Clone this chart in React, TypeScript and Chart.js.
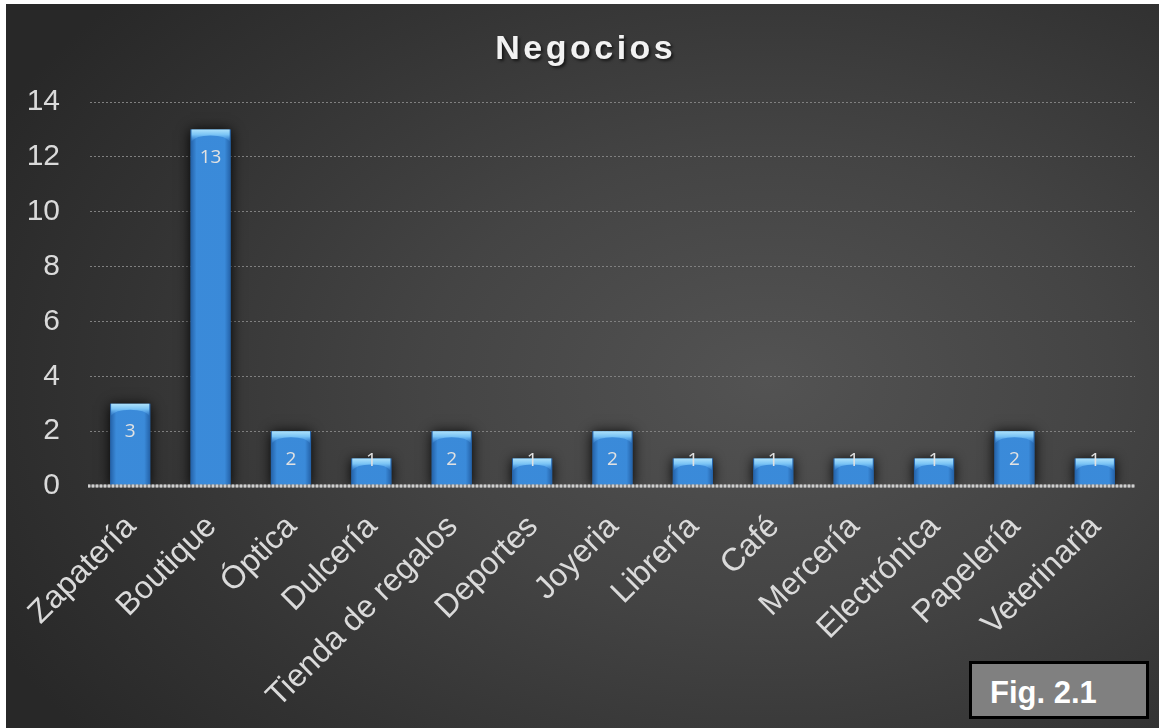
import React, { useEffect, useRef } from "react";
import { Chart, registerables } from "chart.js";

Chart.register(...registerables);

const TITLE = "Negocios";
const CATEGORIES = [
  "Zapatería",
  "Boutique",
  "Óptica",
  "Dulcería",
  "Tienda de regalos",
  "Deportes",
  "Joyeria",
  "Librería",
  "Café",
  "Mercería",
  "Electrónica",
  "Papelería",
  "Veterinaria",
];
const VALUES = [3, 13, 2, 1, 2, 1, 2, 1, 1, 1, 1, 2, 1];
const Y_MIN = 0;
const Y_MAX = 14;
const Y_STEP = 2;
const FIG_LABEL = "Fig. 2.1";

const CANVAS_W = 1153;
const CANVAS_H = 724;

const barEffects = {
  id: "barEffects",
  beforeDatasetsDraw(chart: any) {
    const ctx = chart.ctx;
    ctx.save();
    ctx.shadowColor = "rgba(0,0,0,0.95)";
    ctx.shadowBlur = 12;
    ctx.shadowOffsetX = 0;
    ctx.shadowOffsetY = 1;
  },
  afterDatasetsDraw(chart: any) {
    const ctx = chart.ctx;
    ctx.restore();
    const meta = chart.getDatasetMeta(0);
    const area = chart.chartArea;
    meta.data.forEach((el: any, i: number) => {
      const w = el.width;
      const left = el.x - w / 2;
      const right = el.x + w / 2;
      const top = el.y;
      const base = el.base;
      ctx.save();
      const hg = ctx.createLinearGradient(left, 0, right, 0);
      hg.addColorStop(0, "rgba(10,50,110,0.5)");
      hg.addColorStop(0.15, "rgba(10,50,110,0.05)");
      hg.addColorStop(0.85, "rgba(10,50,110,0.05)");
      hg.addColorStop(1, "rgba(10,50,110,0.5)");
      ctx.fillStyle = hg;
      ctx.fillRect(left, top, w, base - top);
      const capH = Math.min(12, (base - top) * 0.45);
      const vg = ctx.createLinearGradient(0, top, 0, top + capH);
      vg.addColorStop(0, "#aee2fb");
      vg.addColorStop(0.45, "#79c3f5");
      vg.addColorStop(1, "rgba(70,150,230,0.2)");
      ctx.beginPath();
      ctx.moveTo(left + 1, top);
      ctx.lineTo(right - 1, top);
      ctx.lineTo(right - 1, top + capH);
      ctx.quadraticCurveTo(right - 5, top + capH * 0.5, el.x, top + capH * 0.5);
      ctx.quadraticCurveTo(left + 5, top + capH * 0.5, left + 1, top + capH);
      ctx.closePath();
      ctx.fillStyle = vg;
      ctx.fill();
      ctx.restore();

      const v = VALUES[i];
      const h = base - top;
      const ly = h >= 50 ? top + 28 : top + 2;
      ctx.save();
      ctx.font = "19px 'Open Sans', 'Noto Sans', sans-serif";
      ctx.fillStyle = "#e2e2e2";
      ctx.textAlign = "center";
      ctx.textBaseline = "middle";
      ctx.fillText(String(v), el.x, ly);
      ctx.restore();
    });

    const y0 = chart.scales.y.getPixelForValue(0);
    ctx.save();
    ctx.lineWidth = 3;
    ctx.strokeStyle = "#8c8c8c";
    ctx.beginPath();
    ctx.moveTo(area.left - 2, y0);
    ctx.lineTo(area.right, y0);
    ctx.stroke();
    ctx.setLineDash([2, 2]);
    ctx.strokeStyle = "#d0d0d0";
    ctx.beginPath();
    ctx.moveTo(area.left - 2, y0);
    ctx.lineTo(area.right, y0);
    ctx.stroke();
    ctx.restore();
  },
};

const titlePlugin = {
  id: "customTitle",
  afterDraw(chart: any) {
    const ctx = chart.ctx;
    ctx.save();
    ctx.font = "bold 34px 'Liberation Sans', Arial, sans-serif";
    const spacing = 3.5;
    (ctx as any).letterSpacing = spacing + "px";
    const w = ctx.measureText(TITLE).width - spacing;
    const cx = 578;
    ctx.textAlign = "left";
    ctx.textBaseline = "alphabetic";
    ctx.shadowColor = "rgba(0,0,0,0.6)";
    ctx.shadowBlur = 3;
    ctx.shadowOffsetX = 2;
    ctx.shadowOffsetY = 2;
    ctx.fillStyle = "#f2f2f2";
    ctx.fillText(TITLE, cx - w / 2, 55);
    ctx.restore();
  },
};

export default function App() {
  const ref = useRef<HTMLCanvasElement | null>(null);

  useEffect(() => {
    if (!ref.current) return;
    const chart = new Chart(ref.current, {
      type: "bar",
      data: {
        labels: CATEGORIES,
        datasets: [
          {
            label: TITLE,
            data: VALUES,
            backgroundColor: "#3d8fdf",
            borderWidth: 0,
            barPercentage: 0.5,
            categoryPercentage: 1.0,
          },
        ],
      },
      options: {
        animation: false,
        responsive: false,
        devicePixelRatio: 1,
        layout: { padding: { top: 98, right: 24, left: 0, bottom: 0 } },
        plugins: {
          legend: { display: false },
          title: { display: false },
          tooltip: { enabled: false },
        },
        scales: {
          x: {
            grid: { display: false, drawTicks: false },
            border: { display: false },
            ticks: {
              autoSkip: false,
              maxRotation: 45,
              minRotation: 45,
              padding: 22,
              labelOffset: 1,
              color: "#dadada",
              font: { family: "'Liberation Sans', Arial, sans-serif", size: 32 },
            },
            afterFit(scale: any) {
              scale.height = 242;
            },
          },
          y: {
            min: Y_MIN,
            max: Y_MAX,
            grid: { color: "#808080", lineWidth: 1, drawTicks: false },
            border: { display: false, dash: [2, 2] },
            ticks: {
              stepSize: Y_STEP,
              padding: 30,
              color: "#dadada",
              font: { family: "'Liberation Sans', Arial, sans-serif", size: 30 },
            },
            afterFit(scale: any) {
              scale.width = 84;
            },
          },
        },
      },
      plugins: [barEffects, titlePlugin],
    });
    return () => chart.destroy();
  }, []);

  return (
    <div
      style={{
        position: "absolute",
        left: 0,
        top: 0,
        width: 1159,
        height: 728,
        background: "#ffffff",
        overflow: "hidden",
      }}
    >
      <div
        style={{
          position: "absolute",
          left: 6,
          top: 4,
          width: CANVAS_W,
          height: CANVAS_H,
          background:
            "radial-gradient(ellipse 75% 80% at 66% 52%, #535353 0%, #444444 40%, #333333 75%, #282828 100%)",
        }}
      >
        <canvas
          ref={ref}
          width={CANVAS_W}
          height={CANVAS_H}
          style={{ position: "absolute", left: 0, top: 0, width: CANVAS_W, height: CANVAS_H }}
        />
        <div
          style={{
            position: "absolute",
            left: 963,
            top: 657,
            width: 180,
            height: 58,
            boxSizing: "border-box",
            border: "3px solid #000000",
            background: "#808080",
          }}
        >
          <span
            style={{
              position: "absolute",
              left: 18,
              top: 13,
              lineHeight: "31px",
              fontSize: 31,
              fontWeight: "bold",
              fontFamily: "'Liberation Sans', Arial, sans-serif",
              color: "#ffffff",
              whiteSpace: "nowrap",
            }}
          >
            {FIG_LABEL}
          </span>
        </div>
      </div>
    </div>
  );
}
